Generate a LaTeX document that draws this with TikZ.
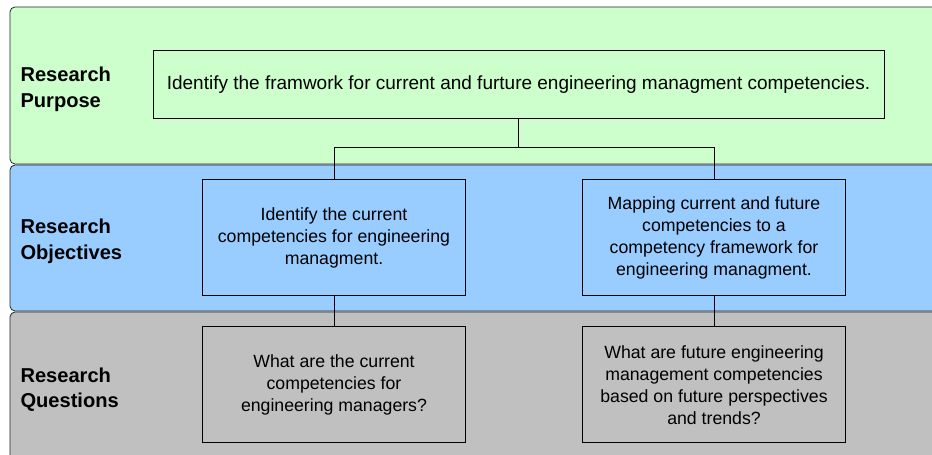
\documentclass[tikz,border=0pt]{standalone}
\usepackage{fontspec}
\setsansfont{Liberation Sans}
\definecolor{purposegreen}{HTML}{CCFFCC}
\definecolor{objblue}{HTML}{99CCFF}
\definecolor{qgray}{HTML}{C0C0C0}
\tikzset{
        band/.style = {draw=black!85, line width=0.8pt, rounded corners=5pt},
        band_label/.style = {anchor=west, align=left, inner sep=0pt,
            font=\sffamily\bfseries\fontsize{20.1}{25.5}\selectfont},
        goalbox/.style = {rectangle, draw=black, line width=1pt, align=center,
            inner sep=0pt, font=\sffamily\fontsize{17.7}{21.8}\selectfont},
        box_p/.style = {goalbox, minimum width=731pt, minimum height=68pt,
            font=\sffamily\fontsize{19}{21.8}\selectfont},
        box_o/.style = {goalbox, minimum width=263pt, minimum height=116pt}
    }
\begin{document}
\begin{tikzpicture}[x=1pt, y=1pt, line width=1pt,
            level 1/.style={sibling distance = 380pt, level distance = 153pt,
                every child node/.style={xshift=5.5pt},
                edge from parent path={(\tikzparentnode.south) -- ([yshift=-28pt]\tikzparentnode.south) -| (\tikzchildnode.north)}},
            level 2/.style={level distance = 147pt, every child node/.style={},
                edge from parent path={(\tikzparentnode.south) -- (\tikzchildnode.north)}}]
            \clip (0,0) rectangle (932,455);
            % bands
            \draw [band, fill=purposegreen] (945,448) -- (10,448) -- (10,291) -- (945,291) -- cycle;
            \draw [band, fill=objblue] (945,290) -- (10,290) -- (10,144) -- (945,144) -- cycle;
            \draw [band, fill=qgray] (945,143) -- (10,143) -- (10,-20) -- (945,-20) -- cycle;
            \node [band_label] (lbl_p) at (20,365.5) {Research\\Purpose};
            \node [band_label] (lbl_o) at (20,213.5) {Research\\Objectives};
            \node [band_label] (lbl_q) at (20,65.5) {Research\\Questions};
            \node [box_p] (purpose) at (518.5,370) {Identify the framwork for current and furture engineering managment competencies.} % ROOT
            child{ node [box_o] (obj_cur) {Identify the current\\competencies for engineering\\managment.}
                child{ node [box_o] (q_cur) {What are the current\\competencies for\\engineering managers?}}
            }
            child{ node [box_o] (obj_map) {Mapping current and future\\competencies to a\\competency framework for\\engineering managment.}
                child{ node [box_o] (q_fut) {What are future engineering\\management competencies\\based on future perspectives\\and trends?}}
            }
            ;
\end{tikzpicture}
\end{document}
